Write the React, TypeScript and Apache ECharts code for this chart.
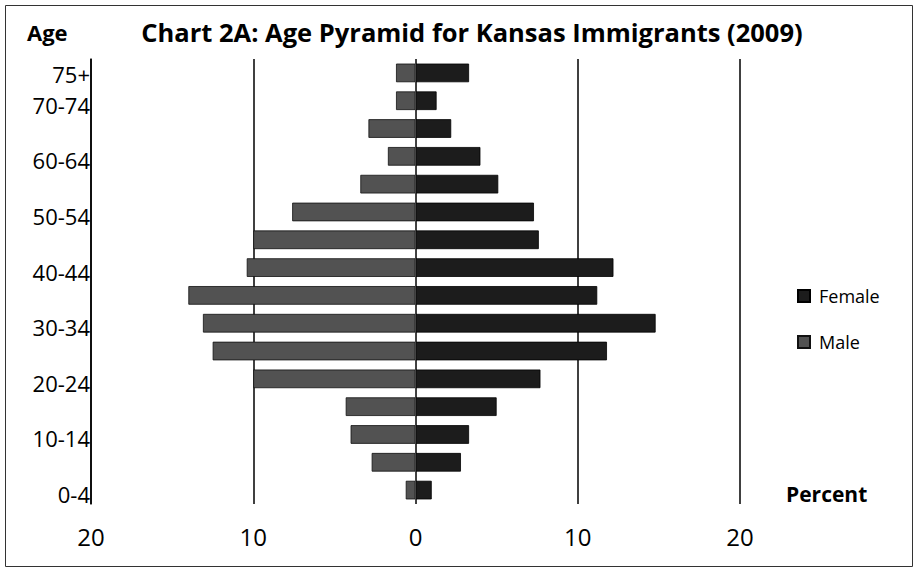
import React, { useEffect, useRef } from "react";
import * as echarts from "echarts";

const ageGroups = ["0-4", "5-9", "10-14", "15-19", "20-24", "25-29", "30-34", "35-39", "40-44", "45-49", "50-54", "55-59", "60-64", "65-69", "70-74", "75+"];
const shownAgeLabels = ["0-4", "10-14", "20-24", "30-34", "40-44", "50-54", "60-64", "70-74", "75+"];
const femalePct = [1.0, 2.8, 3.3, 5.0, 7.7, 11.8, 14.8, 11.2, 12.2, 7.6, 7.3, 5.1, 4.0, 2.2, 1.3, 3.3];
const malePct = [0.6, 2.7, 4.0, 4.3, 10.0, 12.5, 13.1, 14.0, 10.4, 10.0, 7.6, 3.4, 1.7, 2.9, 1.2, 1.2];
const xTicks = [-20, -10, 0, 10, 20];

const FONT = "Open Sans";

export default function App() {
  const ref = useRef<HTMLDivElement>(null);
  useEffect(() => {
    if (!ref.current) return;
    const chart = echarts.init(ref.current, null, { renderer: "svg" });
    const labelText = { fontFamily: FONT, fontSize: 22, color: "#000" };
    chart.setOption({
      animation: false,
      backgroundColor: "#ffffff",
      textStyle: { fontFamily: FONT, color: "#000" },
      title: {
        text: "Chart 2A: Age Pyramid for Kansas Immigrants (2009)",
        left: 467,
        textAlign: "center",
        top: 14,
        textStyle: { fontFamily: FONT, fontSize: 25.5, fontWeight: "bold", color: "#000" },
      },
      legend: {
        orient: "vertical",
        left: 792,
        top: 282,
        icon: "rect",
        itemWidth: 12,
        itemHeight: 12,
        itemGap: 28,
        data: ["Female", "Male"],
        textStyle: { fontFamily: FONT, fontSize: 18, color: "#000", padding: [0, 0, 0, 4] },
      },
      grid: { left: 91, right: 177, top: 59, bottom: 68, containLabel: false },
      xAxis: {
        type: "value",
        min: xTicks[0],
        max: xTicks[xTicks.length - 1],
        interval: 10,
        axisLine: { show: false },
        axisTick: { show: false },
        axisLabel: {
          margin: 20,
          fontFamily: FONT,
          fontSize: 24,
          color: "#000",
          formatter: (v: number) => String(Math.abs(v)),
        },
        splitLine: { show: true, lineStyle: { color: "#000", width: 1.5 } },
      },
      yAxis: {
        type: "category",
        data: ageGroups,
        axisLine: { show: true, onZero: false, lineStyle: { color: "#000", width: 1.5 } },
        axisTick: { show: false },
        axisLabel: {
          interval: 0,
          margin: 1,
          ...labelText,
          formatter: (v: string) => {
            if (shownAgeLabels.indexOf(v) < 0) return "";
            return v === "75+" ? `{b|${v}}` : `{a|${v}}`;
          },
          rich: {
            a: { ...labelText, padding: [8, 0, 0, 0] },
            b: { ...labelText, padding: [2, 0, 0, 0] },
          },
        },
      },
      series: [
        {
          name: "Female",
          type: "bar",
          stack: "pyramid",
          barCategoryGap: "33%",
          data: femalePct,
          itemStyle: { color: "#1c1c1c", borderColor: "#000", borderWidth: 0.8 },
          markLine: {
            silent: true,
            symbol: "none",
            label: { show: false },
            lineStyle: { color: "#444", width: 1, type: "solid" },
            data: [{ xAxis: 0 }],
          },
        },
        {
          name: "Male",
          type: "bar",
          stack: "pyramid",
          barCategoryGap: "33%",
          data: malePct.map((v) => -v),
          itemStyle: { color: "#525252", borderColor: "#111", borderWidth: 0.8 },
        },
      ],
      graphic: [
        {
          type: "rect",
          shape: { x: 5.5, y: 5.5, width: 907, height: 561 },
          style: { fill: "none", stroke: "#333", lineWidth: 1 },
          silent: true,
        },
        {
          type: "text",
          left: 27,
          top: 21,
          style: { text: "Age", fontFamily: FONT, fontSize: 22, fontWeight: "bold", fill: "#000" },
        },
        {
          type: "text",
          left: 786,
          top: 483,
          style: { text: "Percent", fontFamily: FONT, fontSize: 21, fontWeight: "bold", fill: "#000" },
        },
      ],
    });
    return () => chart.dispose();
  }, []);
  return <div ref={ref} style={{ width: 917, height: 572, position: "absolute", left: 0, top: 0 }} />;
}
